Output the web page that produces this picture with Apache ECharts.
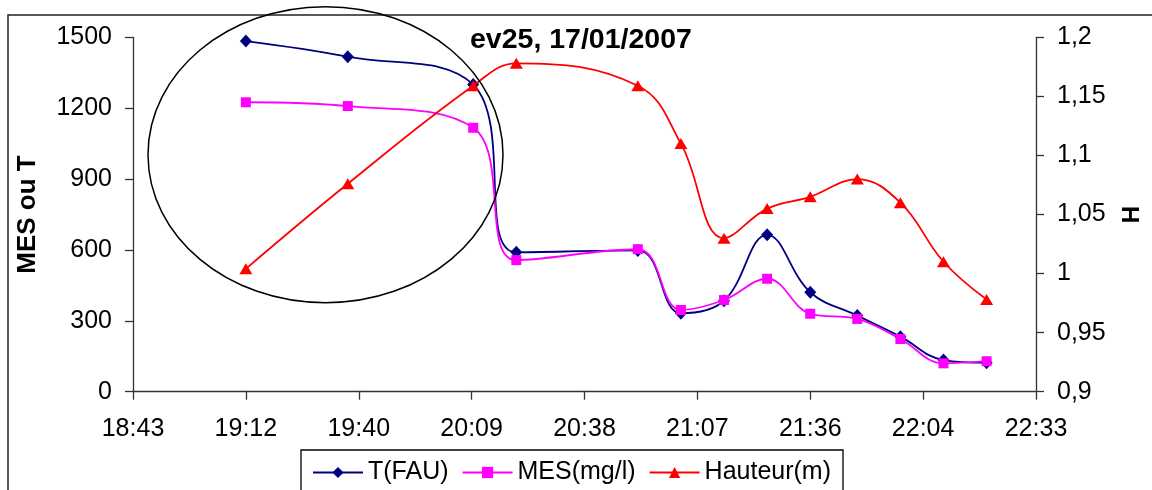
<!DOCTYPE html>
<html>
<head>
<meta charset="utf-8">
<script src="https://cdn.jsdelivr.net/npm/echarts@6/dist/echarts.min.js"></script>
<style>
html,body{margin:0;padding:0;background:#fff;}
#chart{width:1152px;height:490px;}
</style>
</head>
<body>
<div id="chart"></div>
<script>
// ---- data ----
const times = ["19:12","19:38","20:10","20:21","20:52","21:03","21:14","21:25","21:36","21:48","21:59","22:10","22:21"];
const turbidity = [1484, 1418, 1300, 590, 598, 332, 385, 664, 421, 322, 233, 134, 123];
const mes = [1225, 1209, 1117, 557, 603, 346, 388, 478, 330, 308, 223, 120, 129];
const hauteur = [1.004, 1.076, 1.159, 1.178, 1.159, 1.110, 1.030, 1.055, 1.065, 1.080, 1.060, 1.010, 0.978];
const xTickLabels = ["18:43","19:12","19:40","20:09","20:38","21:07","21:36","22:04","22:33"];
const yTickLabels = ["0","300","600","900","1200","1500"];
const hTickLabels = ["0,9","0,95","1","1,05","1,1","1,15","1,2"];
const seriesNames = ["T(FAU)","MES(mg/l)","Hauteur(m)"];
const titleText = "ev25, 17/01/2007";

// x axis unit: hundredths of a day
function toX(t){ const p=t.split(":"); return (parseInt(p[0])*60+parseInt(p[1]))/14.4; }
const X_MIN = 78, X_MAX = 94, X_INT = 2;
const pairs = arr => arr.map((v,i)=>[toX(times[i]), v]);

const FONT = "'Liberation Sans', Arial, sans-serif";
const chart = echarts.init(document.getElementById('chart'), null, {renderer:'canvas'});
const axisLine = {show:true, lineStyle:{color:'#333', width:1.3}};
const axisTick = {show:true, inside:false, length:8, lineStyle:{color:'#333', width:1.3}};

chart.setOption({
  animation:false,
  backgroundColor:'#fff',
  title:{
    text:titleText, left:470, top:26, padding:0,
    textStyle:{fontFamily:FONT, fontSize:28.5, fontWeight:'bold', color:'#000'}
  },
  legend:{
    data:seriesNames,
    left:301, top:450, padding:[10,12,10,11],
    borderColor:'#000', borderWidth:1.3,
    itemWidth:50, itemHeight:14, itemGap:13,
    textStyle:{fontFamily:FONT, fontSize:25, color:'#000'}
  },
  grid:{left:133, right:113, top:37.3, bottom:98.3, containLabel:false},
  xAxis:{
    type:'value', min:X_MIN, max:X_MAX, interval:X_INT,
    axisLine:axisLine, axisTick:axisTick, splitLine:{show:false},
    axisLabel:{margin:25, fontFamily:FONT, fontSize:25, color:'#000',
      formatter:v=>xTickLabels[Math.round((v-X_MIN)/X_INT)]}
  },
  yAxis:[{
    type:'value', min:0, max:1500, interval:300, position:'left',
    name:'MES ou T', nameLocation:'middle', nameGap:92, nameRotate:90,
    nameTextStyle:{fontFamily:FONT, fontSize:26, fontWeight:'bold', color:'#000'},
    axisLine:axisLine, axisTick:axisTick, splitLine:{show:false},
    axisLabel:{margin:21, fontFamily:FONT, fontSize:25, color:'#000',
      formatter:v=>yTickLabels[Math.round(v/300)]}
  },{
    type:'value', min:0.9, max:1.2, interval:0.05, position:'right',
    name:'H', nameLocation:'middle', nameGap:84, nameRotate:90,
    nameTextStyle:{fontFamily:FONT, fontSize:24, fontWeight:'bold', color:'#000'},
    axisLine:axisLine, axisTick:axisTick, splitLine:{show:false},
    axisLabel:{margin:21, fontFamily:FONT, fontSize:25, color:'#000',
      formatter:v=>hTickLabels[Math.round((v-0.9)/0.05)]}
  }],
  series:[{
    name:seriesNames[0], type:'line', yAxisIndex:0, data:pairs(turbidity),
    smooth:0.4, symbol:'diamond', symbolSize:[12,13],
    lineStyle:{color:'#000080', width:1.8}, itemStyle:{color:'#000080'}, z:2
  },{
    name:seriesNames[1], type:'line', yAxisIndex:0, data:pairs(mes),
    smooth:0.4, symbol:'rect', symbolSize:10,
    lineStyle:{color:'#FF00FF', width:1.8}, itemStyle:{color:'#FF00FF'}, z:3
  },{
    name:seriesNames[2], type:'line', yAxisIndex:1, data:pairs(hauteur),
    smooth:0.4, symbol:'triangle', symbolSize:[13,11],
    lineStyle:{color:'#FF0000', width:1.8}, itemStyle:{color:'#FF0000'}, z:4
  }],
  graphic:[{
    type:'rect', shape:{x:8, y:15, width:1200, height:600},
    style:{fill:'none', stroke:'#222', lineWidth:1.5}, silent:true, z:0
  },{
    type:'ellipse', shape:{cx:325.5, cy:154.7, rx:177.5, ry:148},
    style:{fill:'none', stroke:'#000', lineWidth:1.5}, silent:true, z:10
  }]
});
</script>
</body>
</html>
